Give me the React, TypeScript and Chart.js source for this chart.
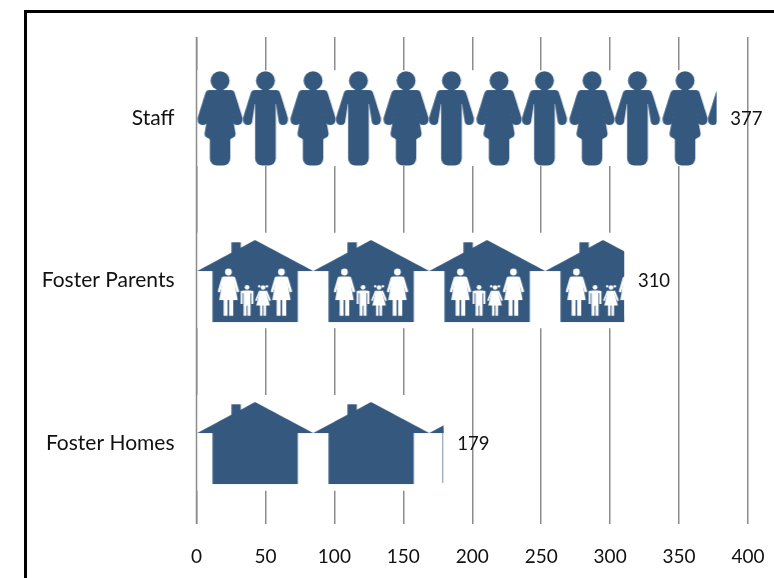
import React, { useEffect, useRef } from "react";
import { Chart, registerables } from "chart.js";

Chart.register(...registerables);

const categories = ["Staff", "Foster Parents", "Foster Homes"];
const values = [377, 310, 179];
const axisTicks = { min: 0, max: 400, step: 50 };

const BLUE = "#35597e";
const GRID = "#8c8c8c";
const FONT = "Lato, Carlito, sans-serif";
const BAND = 95;

function tile(w: number, draw: (c: CanvasRenderingContext2D) => void) {
  const cv = document.createElement("canvas");
  cv.width = w;
  cv.height = BAND + 6;
  const c = cv.getContext("2d")!;
  c.fillStyle = "#fff";
  c.fillRect(0, 0, w, BAND + 6);
  draw(c);
  return c.createPattern(cv, "repeat")!;
}

function arm(c: CanvasRenderingContext2D, s: number, top: number, handY: number, outerTop: number, outerHand: number, innerHand: number, innerTop: number, armpit: number) {
  c.beginPath();
  c.moveTo(0, top);
  c.lineTo(s * outerTop, top);
  c.quadraticCurveTo(s * (outerTop + 3), top, s * (outerTop + 4), top + 4);
  c.lineTo(s * outerHand, handY - 4);
  c.quadraticCurveTo(s * (outerHand + 0.5), handY + 3, s * ((outerHand + innerHand) / 2), handY + 3);
  c.quadraticCurveTo(s * innerHand, handY + 3, s * innerHand, handY - 2);
  c.lineTo(s * innerTop, armpit);
  c.lineTo(0, armpit);
  c.closePath();
  c.fill();
}

function figure(c: CanvasRenderingContext2D, cx: number, female: boolean) {
  c.save();
  c.translate(cx, 0);
  c.fillStyle = BLUE;
  c.beginPath();
  c.arc(0, 9.7, 9.5, 0, Math.PI * 2);
  c.fill();
  const innerHand = female ? 12.5 : 13;
  const innerTop = female ? 11 : 10.6;
  const armpit = female ? 41 : 33;
  arm(c, -1, 19, 51, 11, 22.5, innerHand, innerTop, armpit);
  arm(c, 1, 19, 51, 11, 22.5, innerHand, innerTop, armpit);
  c.fillRect(-8, 19, 16, armpit - 17);
  if (female) {
    c.beginPath();
    c.moveTo(-9.5, 30);
    c.lineTo(-15.5, 62);
    c.quadraticCurveTo(-16, 66, -12, 67);
    c.lineTo(-10, 68.5);
    c.lineTo(10, 68.5);
    c.lineTo(12, 67);
    c.quadraticCurveTo(16, 66, 15.5, 62);
    c.lineTo(9.5, 30);
    c.closePath();
    c.fill();
    c.beginPath();
    c.roundRect(-10.2, 64, 20.4, 30.5, [0, 0, 7, 7]);
    c.fill();
  } else {
    c.beginPath();
    c.roundRect(-10.3, 25, 20.6, 69.5, [0, 0, 7, 7]);
    c.fill();
  }
  c.restore();
}

function house(c: CanvasRenderingContext2D) {
  c.fillStyle = BLUE;
  c.fillRect(34.2, 9.3, 9.3, 14);
  c.beginPath();
  c.moveTo(0, 38);
  c.lineTo(57.8, 7);
  c.lineTo(116, 38);
  c.lineTo(100.5, 38);
  c.lineTo(100.5, 89);
  c.lineTo(15.2, 89);
  c.lineTo(15.2, 38);
  c.closePath();
  c.fill();
}

function limbs(c: CanvasRenderingContext2D, cx: number, x0: number, x1: number, y0: number, y1: number) {
  c.fillRect(cx - x1, y0, x1 - x0, y1 - y0);
  c.fillRect(cx + x0, y0, x1 - x0, y1 - y0);
}

function woman(c: CanvasRenderingContext2D, cx: number) {
  c.beginPath();
  c.arc(cx, 39, 3.4, 0, Math.PI * 2);
  c.fill();
  c.beginPath();
  c.moveTo(cx - 5, 43.5);
  c.lineTo(cx + 5, 43.5);
  c.lineTo(cx + 9.2, 67);
  c.lineTo(cx - 9.2, 67);
  c.closePath();
  c.fill();
  c.lineWidth = 2.6;
  c.lineCap = "round";
  c.beginPath();
  c.moveTo(cx - 5.5, 45);
  c.lineTo(cx - 9.3, 58);
  c.moveTo(cx + 5.5, 45);
  c.lineTo(cx + 9.3, 58);
  c.stroke();
  limbs(c, cx, 0.8, 4.8, 66, 82.7);
}

function boy(c: CanvasRenderingContext2D, cx: number) {
  c.beginPath();
  c.arc(cx, 54.3, 2.4, 0, Math.PI * 2);
  c.fill();
  c.fillRect(cx - 5.5, 57.7, 11, 2.5);
  c.fillRect(cx - 3.5, 57.7, 7, 15);
  limbs(c, cx, 4.4, 6.4, 58, 71);
  limbs(c, cx, 0.5, 3.5, 72, 82.7);
}

function girl(c: CanvasRenderingContext2D, cx: number) {
  c.beginPath();
  c.arc(cx, 54.5, 2.3, 0, Math.PI * 2);
  c.fill();
  c.beginPath();
  c.arc(cx - 3.8, 53.3, 1.2, 0, Math.PI * 2);
  c.fill();
  c.beginPath();
  c.arc(cx + 3.8, 53.3, 1.2, 0, Math.PI * 2);
  c.fill();
  c.beginPath();
  c.moveTo(cx - 2.8, 57.7);
  c.lineTo(cx + 2.8, 57.7);
  c.lineTo(cx + 6.8, 72.5);
  c.lineTo(cx - 6.8, 72.5);
  c.closePath();
  c.fill();
  c.lineWidth = 1.8;
  c.lineCap = "round";
  c.beginPath();
  c.moveTo(cx - 3.4, 58.5);
  c.lineTo(cx - 6.8, 67);
  c.moveTo(cx + 3.4, 58.5);
  c.lineTo(cx + 6.8, 67);
  c.stroke();
  limbs(c, cx, 0.5, 3, 72, 82.7);
}

export default function App() {
  const ref = useRef<HTMLCanvasElement | null>(null);

  useEffect(() => {
    const staff = tile(93, (c) => {
      figure(c, 22.8, true);
      figure(c, 68.2, false);
    });
    const parents = tile(116, (c) => {
      house(c);
      c.fillStyle = "#fff";
      c.strokeStyle = "#fff";
      woman(c, 31.2);
      boy(c, 49.8);
      girl(c, 65.8);
      woman(c, 84.2);
    });
    const homes = tile(116, house);
    const patterns = [staff, parents, homes];

    const chart = new Chart(ref.current!, {
      type: "bar",
      data: {
        labels: categories,
        datasets: [
          {
            data: values,
            backgroundColor: patterns,
            borderWidth: 0,
            barThickness: BAND,
          },
        ],
      },
      options: {
        indexAxis: "y",
        animation: false,
        responsive: false,
        layout: { padding: { top: 37, right: 26, left: 0, bottom: 0 } },
        plugins: { legend: { display: false }, tooltip: { enabled: false } },
        scales: {
          x: {
            min: axisTicks.min,
            max: axisTicks.max,
            ticks: {
              stepSize: axisTicks.step,
              color: "#111",
              padding: 21,
              maxRotation: 0,
              font: { family: FONT, size: 19 },
            },
            grid: { color: GRID, lineWidth: 1.5, drawTicks: false },
            border: { display: false },
            afterFit: (s: any) => {
              s.height = 54;
              s.paddingLeft = 0;
              s.paddingRight = 0;
            },
          },
          y: {
            ticks: { color: "#111", padding: 14, font: { family: FONT, size: 21 } },
            grid: { display: false },
            border: { display: false },
            afterFit: (s: any) => {
              s.width = 196.5;
            },
          },
        },
      },
      plugins: [
        {
          id: "pictograms",
          beforeDatasetsDraw(ch: any) {
            ch.getDatasetMeta(0).data.forEach((el: any, i: number) => {
              patterns[i].setTransform(new DOMMatrix().translate(el.base, Math.round(el.y - BAND / 2)));
            });
          },
          afterDatasetsDraw(ch: any) {
            const c = ch.ctx;
            const area = ch.chartArea;
            const zero = ch.scales.x.getPixelForValue(0);
            c.save();
            c.strokeStyle = GRID;
            c.lineWidth = 1.5;
            c.beginPath();
            c.moveTo(zero, area.top);
            c.lineTo(zero, area.bottom);
            c.stroke();
            c.fillStyle = "#111";
            c.font = `18.5px ${FONT}`;
            c.textBaseline = "middle";
            ch.getDatasetMeta(0).data.forEach((el: any, i: number) => {
              c.fillText(String(values[i]), el.x + 14, el.y + 1);
              if (i === 2) {
                const top = Math.round(el.y - BAND / 2);
                c.strokeStyle = "rgba(53,89,126,0.65)";
                c.lineWidth = 1;
                c.beginPath();
                c.moveTo(el.x - 0.5, top + 34);
                c.lineTo(el.x - 0.5, top + 88);
                c.stroke();
              }
            });
            c.restore();
          },
        },
      ],
    } as any);
    return () => chart.destroy();
  }, []);

  return (
    <div style={{ position: "fixed", left: 0, top: 0, width: 774, height: 578, overflow: "hidden", background: "#fff" }}>
      <canvas ref={ref} width={774} height={578} style={{ position: "absolute", left: 0, top: 0 }} />
      <div
        style={{
          position: "absolute",
          left: 24,
          top: 10,
          width: 800,
          height: 620,
          borderLeft: "3px solid #000",
          borderTop: "3px solid #000",
          pointerEvents: "none",
        }}
      />
    </div>
  );
}
